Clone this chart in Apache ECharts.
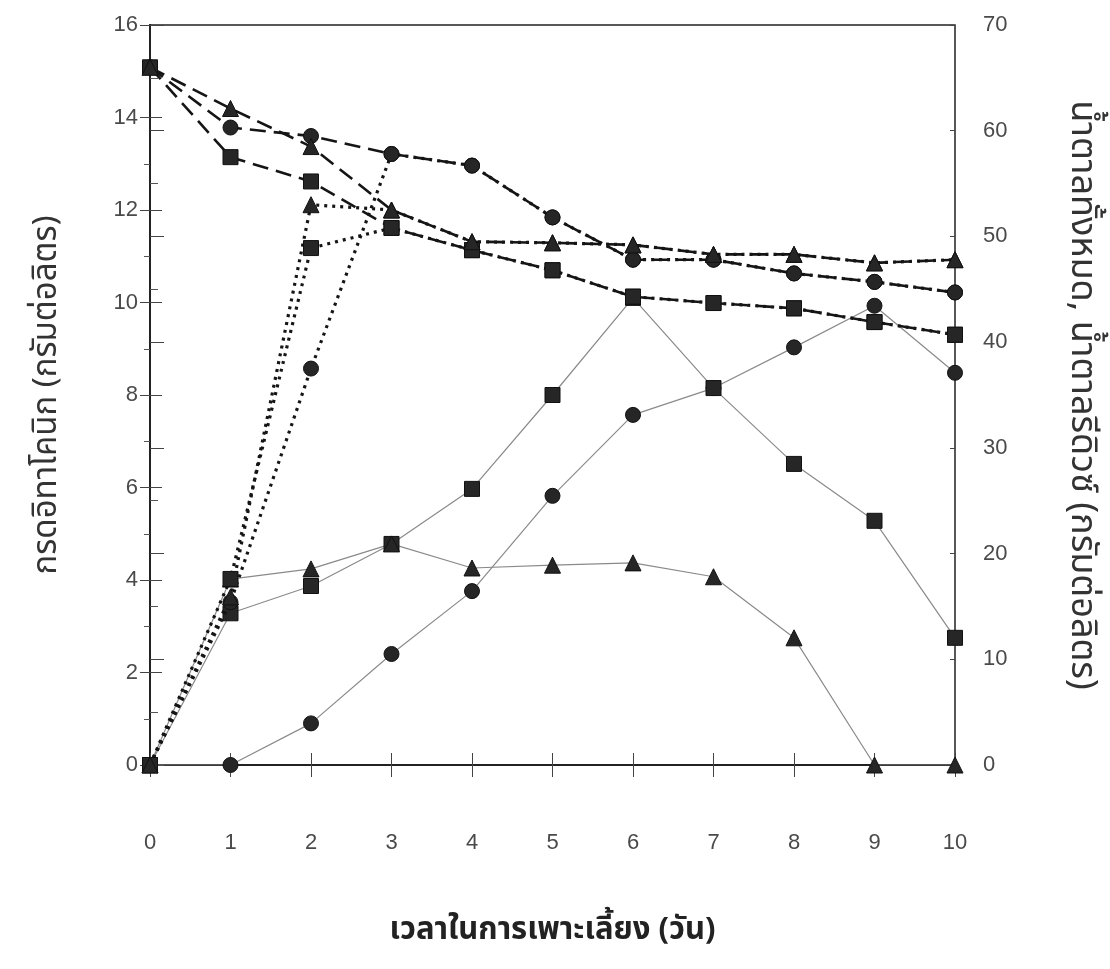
<!DOCTYPE html>
<html>
<head>
<meta charset="utf-8">
<script src="https://cdn.jsdelivr.net/npm/echarts@6/dist/echarts.min.js"></script>
<style>
html,body{margin:0;padding:0;background:#fff;}
#chart{width:1110px;height:969px;}
</style>
</head>
<body>
<div id="chart"></div>
<script>
// ---- Data ----
const days = [0, 1, 2, 3, 4, 5, 6, 7, 8, 9, 10];

// Itaconic acid (g/L) — left axis
const itaconicCircle   = [0, 0, 0.9, 2.4, 3.76, 5.82, 7.57, 8.15, 9.03, 9.93, 8.48];
const itaconicSquare   = [0, 3.28, 3.87, 4.78, 5.97, 8.0, 10.1, 8.15, 6.51, 5.28, 2.75];
const itaconicTriangle = [0, 4.02, 4.24, 4.78, 4.26, 4.32, 4.37, 4.07, 2.75, 0, 0];

// Total sugar (g/L) — right axis
const totalCircle   = [66.0, 60.3, 59.5, 57.8, 56.7, 51.8, 47.8, 47.8, 46.5, 45.7, 44.7];
const totalSquare   = [66.0, 57.5, 55.2, 50.8, 48.7, 46.8, 44.3, 43.7, 43.2, 41.9, 40.7];
const totalTriangle = [66.0, 62.1, 58.5, 52.5, 49.5, 49.4, 49.2, 48.3, 48.3, 47.5, 47.8];

// Reducing sugar (g/L) — right axis
const reducingCircle   = [0, 15.4, 37.5, 57.8, 56.7, 51.8, 47.8, 47.8, 46.5, 45.7, 44.7];
const reducingSquare   = [0, 17.6, 48.9, 50.8, 48.7, 46.8, 44.3, 43.7, 43.2, 41.9, 40.7];
const reducingTriangle = [0, 15.9, 53.0, 52.5, 49.5, 49.4, 49.2, 48.3, 48.3, 47.5, 47.8];

const leftTicks = {min: 0, max: 16, interval: 2};
const rightTicks = {min: 0, max: 70, interval: 10};

const xTitle = 'เวลาในการเพาะเลี้ยง (วัน)';
const leftTitle = 'กรดอิทาโคนิก (กรัมต่อลิตร)';
const rightTitle = 'น้ำตาลทั้งหมด, น้ำตาลรีดิวซ์ (กรัมต่อลิตร)';

// ---- Chart ----
const thaiFont = '"Noto Sans Thai", "Noto Sans Thai Looped", Loma, Garuda, "Tlwg Typo", "Noto Sans", sans-serif';
const numFont = '"Liberation Sans", Arial, sans-serif';
const dark = '#222';

function pts(arr) { return days.map((d, i) => [d, arr[i]]); }

const markerColor = '#262626';
function mk(name, data, yIdx, symbol, kind) {
  let lineStyle;
  if (kind === 'solid') lineStyle = {color: '#8a8a8a', width: 1.2, type: 'solid'};
  else if (kind === 'dash') lineStyle = {color: '#151515', width: 2.6, type: [16, 8]};
  else lineStyle = {color: '#151515', width: 3.2, type: [3, 5]};
  return {
    name, type: 'line', data: pts(data), yAxisIndex: yIdx, xAxisIndex: 0,
    symbol, symbolSize: symbol === 'triangle' ? 16 : 15,
    showSymbol: true,
    lineStyle,
    itemStyle: {color: markerColor, borderColor: '#111', borderWidth: 1},
    z: kind === 'solid' ? 3 : (kind === 'dash' ? 4 : 5),
    silent: true
  };
}

const chart = echarts.init(document.getElementById('chart'), null, {renderer: 'canvas'});
const option = {
  backgroundColor: '#fff',
  animation: false,
  grid: {left: 150, right: 155, top: 25, bottom: 204, show: true, borderColor: dark, borderWidth: 1.5, backgroundColor: 'transparent'},
  xAxis: [
    {
      type: 'value', min: 0, max: 10, interval: 1,
      axisLine: {lineStyle: {color: dark, width: 2}},
      axisTick: {length: 12, lineStyle: {color: '#444', width: 1}},
      axisLabel: {margin: 67, fontSize: 22, color: '#4a4a4a', fontFamily: numFont},
      splitLine: {show: false},
      name: xTitle, nameLocation: 'middle', nameGap: 152,
      nameTextStyle: {fontSize: 31, fontWeight: 'bold', color: dark, fontFamily: thaiFont}
    },
    {
      type: 'value', min: 0, max: 10, interval: 1, position: 'bottom',
      axisLine: {show: false},
      axisTick: {inside: true, length: 12, lineStyle: {color: '#444', width: 1}},
      axisLabel: {show: false}, splitLine: {show: false}
    }
  ],
  yAxis: [
    {
      type: 'value', position: 'left', ...leftTicks,
      axisLine: {show: true, lineStyle: {color: dark, width: 2}},
      axisTick: {show: true, length: 10, lineStyle: {color: '#444'}},
      minorTick: {show: true, splitNumber: 2, length: 6, lineStyle: {color: '#555'}},
      axisLabel: {margin: 12, fontSize: 22, color: '#4a4a4a', fontFamily: numFont},
      splitLine: {show: false},
      name: leftTitle, nameLocation: 'middle', nameGap: 84, nameRotate: 90,
      nameTextStyle: {fontSize: 33, color: '#333', fontFamily: thaiFont}
    },
    {
      type: 'value', position: 'right', ...rightTicks,
      axisLine: {show: true, lineStyle: {color: dark, width: 2}},
      axisTick: {show: true, length: 14, lineStyle: {color: '#444'}},
      minorTick: {show: true, splitNumber: 2, length: 8, lineStyle: {color: '#555'}},
      axisLabel: {margin: 28, fontSize: 22, color: '#4a4a4a', fontFamily: numFont},
      splitLine: {show: false},
      name: rightTitle, nameLocation: 'middle', nameGap: 106, nameRotate: -90,
      nameTextStyle: {fontSize: 36, color: '#333', fontFamily: thaiFont}
    },
    {
      type: 'value', position: 'left', ...leftTicks,
      axisLine: {show: false},
      axisTick: {show: true, inside: true, length: 12, lineStyle: {color: '#444'}},
      axisLabel: {show: false}, splitLine: {show: false}
    },
    {
      type: 'value', position: 'right', ...rightTicks,
      axisLine: {show: false},
      axisTick: {show: true, inside: true, length: 5, lineStyle: {color: '#444'}},
      axisLabel: {show: false}, splitLine: {show: false}
    }
  ],
  series: [
    mk('Itaconic ●', itaconicCircle, 0, 'circle', 'solid'),
    mk('Itaconic ■', itaconicSquare, 0, 'rect', 'solid'),
    mk('Itaconic ▲', itaconicTriangle, 0, 'triangle', 'solid'),
    mk('Total ●', totalCircle, 1, 'circle', 'dash'),
    mk('Total ■', totalSquare, 1, 'rect', 'dash'),
    mk('Total ▲', totalTriangle, 1, 'triangle', 'dash'),
    mk('Reducing ●', reducingCircle, 1, 'circle', 'dot'),
    mk('Reducing ■', reducingSquare, 1, 'rect', 'dot'),
    mk('Reducing ▲', reducingTriangle, 1, 'triangle', 'dot')
  ]
};
chart.setOption(option);
</script>
</body>
</html>
